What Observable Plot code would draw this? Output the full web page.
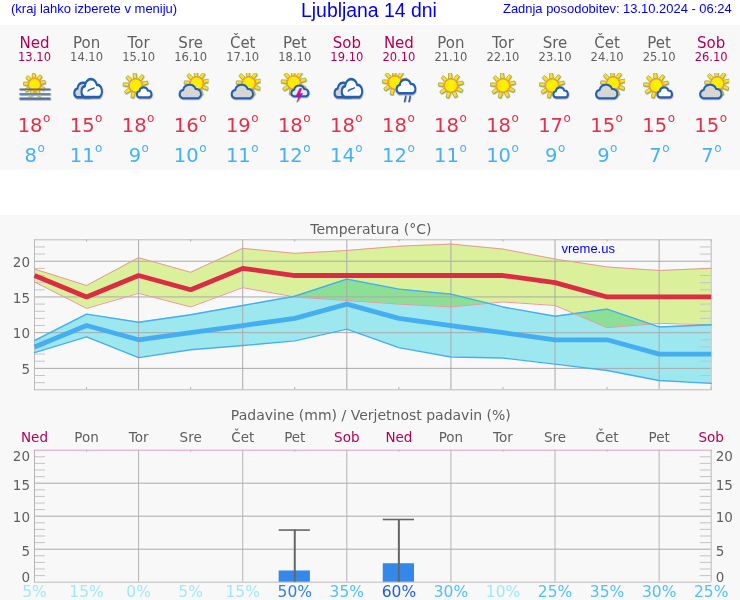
<!DOCTYPE html>
<html><head><meta charset="utf-8">
<script src="https://cdn.jsdelivr.net/npm/d3@7"></script>
<script src="https://cdn.jsdelivr.net/npm/@observablehq/plot@0.6"></script>
<style>
html,body{margin:0;padding:0;background:#fff;overflow:hidden}
#page{position:relative;width:740px;height:600px;overflow:hidden;background:#fff}
.panel{position:absolute;left:0;width:740px;background:#f8f8f8}
.head{position:absolute;color:#0000ee;font-family:"Liberation Sans",sans-serif;white-space:nowrap}
.layer{position:absolute;left:0}
.layer svg{display:block}
</style></head><body>
<div id="page">
<div class="panel" style="top:25px;height:145px"></div>
<div class="panel" style="top:215px;height:385px"></div>
<div class="head" style="left:11px;top:0;font-size:13px;line-height:17px">(kraj lahko izberete v meniju)</div>
<div class="head" style="left:301px;top:0;font-size:19.4px;line-height:21px">Ljubljana 14 dni</div>
<div class="head" style="left:503px;top:0;font-size:12.95px;line-height:17px">Zadnja posodobitev: 13.10.2024 - 06:24</div>
</div>
<script>
const dayNames = ["Ned","Pon","Tor","Sre","Čet","Pet","Sob","Ned","Pon","Tor","Sre","Čet","Pet","Sob"];
const dates = ["13.10","14.10","15.10","16.10","17.10","18.10","19.10","20.10","21.10","22.10","23.10","24.10","25.10","26.10"];
const icons = ["fog","cloudy","sunCloud","cloudSun","cloudSun","thunder","cloudy","rain","sun","sun","sunCloud","cloudSun","sunCloud","cloudSun"];
const maxT = [18,15,18,16,19,18,18,18,18,18,17,15,15,15];
const minT = [8,11,9,10,11,12,14,12,11,10,9,9,7,7];
const maxHi = [18.9,16.6,20.5,18.45,21.8,21.1,21.5,22.1,22.4,21.7,20.3,19.2,18.7,19];
const maxLo = [17.1,13.4,15.5,13.6,16.3,15,14.5,14,13.6,14.3,13.8,10.7,11.3,11.1];
const minHi = [8.9,12.6,11.45,12.5,13.8,15.1,17.5,16.1,15.4,13.6,12.3,13.3,10.8,11.1];
const minLo = [7.2,9.4,6.5,7.6,8.2,8.85,10.5,7.9,6.6,6.45,5.6,4.7,3.3,2.9];
const precip = [0,0,0,0,0,1.7,0,2.8,0,0,0,0,0,0];
const precipHi = [0,0,0,0,0,7.9,0,9.5,0,0,0,0,0,0];
const probs = [5,15,0,5,15,50,35,60,30,10,25,35,30,25];
const tempTicks = [5,10,15,20];
const tempMinor = [3,4,6,7,8,9,11,12,13,14,16,17,18,19,21,22];
const rainTicks = [0,5,10,15,20];
const rainMinor = [1,2,3,4,6,7,8,9,11,12,13,14,16,17,18,19];
const rainLabelNudge = {20:6,15:2,10:1,5:2,0:-4.5};

const idx = d3.range(14);
const even = idx.filter(i => i % 2 === 0);
const odd = idx.filter(i => i % 2 === 1);
const isWeekend = i => dayNames[i] === "Ned" || dayNames[i] === "Sob";
const FONT = "DejaVu Sans";
const xScale = {type:"linear", domain:[0,13], range:[34,710.7]};
const GREY = "#5f5f5f", WKND = "#b0005a";

/* ---- icons ---- */
function sun(cx,cy,r=6.5,R=12.5,n=9){
  let s="";
  for(let k=0;k<n;k++){
    const a=k/n*2*Math.PI-0.25, c=Math.cos(a), si=Math.sin(a), w=1.8, b=r+0.5;
    s+=`<polygon points="${cx+b*c-w*si},${cy+b*si+w*c} ${cx+R*c-w*.8*si},${cy+R*si+w*.8*c} ${cx+R*c+w*.8*si},${cy+R*si-w*.8*c} ${cx+b*c+w*si},${cy+b*si-w*c}" fill="#ffe600" stroke="#8f8f66" stroke-width=".6"/>`;
  }
  return s+`<circle cx="${cx}" cy="${cy}" r="${r}" fill="#ffee00" stroke="#ff9a20" stroke-width="1.2"/>`;
}
function cloud(x,y,w,h,fill){
  const sx=w/100, sy=h/60;
  return `<g transform="translate(${x},${y}) scale(${sx},${sy})"><path d="M20,59 A17,17 0 0 1 22,26 A26,26 0 0 1 72,22 A19.5,19.5 0 0 1 82,59 Z" fill="${fill}" stroke="#2060b0" stroke-width="${2/Math.min(sx,sy)}"/></g>`;
}
const iconBody = {
  sun: () => sun(18,13),
  fog: () => sun(18,12,6,11)+
    `<rect x="3" y="16" width="31" height="1.6" fill="#4a6ea8"/><rect x="3" y="20.5" width="31" height="2" fill="#6d88b0"/><rect x="3" y="25" width="31" height="2.2" fill="#4a6ea8"/>`+
    `<rect x="12" y="23" width="3" height="2" fill="#d8c050"/><rect x="21" y="23" width="3" height="2" fill="#d8c050"/>`,
  cloudy: () => cloud(4,9,22,16,"#d4d4d4")+cloud(11,5,24,20,"#ffffff")+
    `<path d="M19,19 C20,16 24,17 26,15" stroke="#2060b0" stroke-width="1.4" fill="none"/>`,
  sunCloud: () => sun(15,13)+cloud(15,14,17,11,"#ffffff"),
  cloudSun: () => sun(24,11)+cloud(5,11,25,15,"#d6d6d6"),
  thunder: () => sun(17,10)+cloud(13,12,20,12,"#e8e8e8")+
    `<polygon points="23,16 19,24 22,24 20,30 26,21 23,21 25,16" fill="#c010b0" stroke="#90108a" stroke-width=".4"/>`,
  rain: () => sun(14,10)+cloud(14,6,22,15,"#ffffff")+
    `<path d="M25,23 L23.5,30 M29.5,23 L28,30" stroke="#2060b0" stroke-width="1.5" fill="none"/>`
};
const iconSrc = name => "data:image/svg+xml," + encodeURIComponent(
  `<svg xmlns="http://www.w3.org/2000/svg" width="36" height="30" viewBox="0 0 36 30"><defs><filter id="s" x="-10%" y="-10%" width="120%" height="130%"><feDropShadow dx=".4" dy=".8" stdDeviation=".5" flood-color="#777" flood-opacity=".7"/></filter></defs><g filter="url(#s)">${iconBody[name]()}</g></svg>`);

/* ---- helpers ---- */
function tempLabel(values, color, top){
  const two = idx.filter(i => values[i] >= 10), one = idx.filter(i => values[i] < 10);
  const common = {x:i=>i, frameAnchor:"top", fontFamily:FONT, fill:color, lineAnchor:"bottom"};
  return [
    Plot.text(two,{...common,text:i=>values[i],dx:8,dy:top,textAnchor:"end",fontSize:19.5}),
    Plot.text(one,{...common,text:i=>values[i],dx:2.5,dy:top,textAnchor:"end",fontSize:19.5}),
    Plot.text(two,{...common,text:()=>"o",dx:8.5,dy:top-10,textAnchor:"start",fontSize:12}),
    Plot.text(one,{...common,text:()=>"o",dx:3,dy:top-10,textAnchor:"start",fontSize:12})
  ];
}

/* ---- forecast strip ---- */
const strip = Plot.plot({
  width:740,height:170,margin:0,x:xScale,axis:null,
  style:{background:"transparent"},
  marks:[
    Plot.text(idx,{x:i=>i,text:i=>dayNames[i],frameAnchor:"top",lineAnchor:"middle",dy:42.3,fontFamily:FONT,fontSize:15,fill:i=>isWeekend(i)?WKND:GREY}),
    Plot.text(idx,{x:i=>i,text:i=>dates[i],frameAnchor:"top",lineAnchor:"middle",dy:56.8,fontFamily:FONT,fontSize:11.5,fill:i=>isWeekend(i)?WKND:GREY}),
    Plot.image(idx,{x:i=>i,src:i=>iconSrc(icons[i]),frameAnchor:"top",dy:87,width:36,height:30}),
    ...tempLabel(maxT,"#e0304c",131.5),
    ...tempLabel(minT,"#44b2f4",161)
  ]
});

/* ---- temperature ---- */
const BLEND = {mixBlendMode:"multiply"};
const temp = Plot.plot({
  width:740,height:185,marginLeft:34,marginRight:29.3,marginTop:24.3,marginBottom:10.7,
  x:{...xScale,axis:null},y:{domain:[2,23],axis:null},
  style:{background:"transparent"},
  marks:[
    Plot.areaY(idx,{x:i=>i,y1:i=>maxLo[i],y2:i=>maxHi[i],fill:"#e2f7a0",...BLEND}),
    Plot.areaY(idx,{x:i=>i,y1:i=>minLo[i],y2:i=>minHi[i],fill:"#a2eef6",...BLEND}),
    Plot.ruleY(tempTicks,{stroke:"#aaa",strokeWidth:1}),
    Plot.ruleY(tempMinor,{x1:0,x2:0.21,stroke:"#c4c4c4"}),
    Plot.ruleY(tempMinor,{x1:12.79,x2:13,stroke:"#c4c4c4"}),
    Plot.ruleX(even,{stroke:"#aaa"}),
    Plot.ruleX(odd,{y1:2,y2:2.3,stroke:"#aaa"}),
    Plot.ruleX(odd,{y1:22.7,y2:23,stroke:"#aaa"}),
    Plot.frame({stroke:"#bbb"}),
    Plot.line(idx,{x:i=>i,y:i=>maxHi[i],stroke:"#e89a98",strokeWidth:1}),
    Plot.line(idx,{x:i=>i,y:i=>maxLo[i],stroke:"#e89a98",strokeWidth:1}),
    Plot.line(idx,{x:i=>i,y:i=>minHi[i],stroke:"#44aef0",strokeWidth:1.4}),
    Plot.line(idx,{x:i=>i,y:i=>minLo[i],stroke:"#44aef0",strokeWidth:1.4}),
    Plot.line(idx,{x:i=>i,y:i=>maxT[i],stroke:"#dc2c44",strokeWidth:4.8,strokeLinecap:"butt",strokeLinejoin:"miter"}),
    Plot.line(idx,{x:i=>i,y:i=>minT[i],stroke:"#44aef0",strokeWidth:4.8,strokeLinecap:"butt",strokeLinejoin:"miter"}),
    Plot.text(tempTicks,{y:d=>d,text:d=>d,frameAnchor:"left",dx:-4.5,dy:1.5,textAnchor:"end",fontFamily:FONT,fontSize:13.5,fill:GREY}),
    Plot.text(["Temperatura (°C)"],{frameAnchor:"top",lineAnchor:"middle",text:d=>d,dx:-2,dy:-10.3,fontFamily:FONT,fontSize:14,fill:GREY}),
    Plot.text(["vreme.us"],{frameAnchor:"top-left",lineAnchor:"middle",text:d=>d,dx:527,dy:9,textAnchor:"start",fontFamily:"Liberation Sans",fontSize:13,fill:"#0000ee"})
  ]
});

/* ---- precipitation ---- */
const wet = idx.filter(i => precip[i] > 0);
const probColor = p => p >= 60 ? "#2060d8" : p >= 50 ? "#2f80e8" : p >= 25 ? "#50c0f8" : "#a0e8f8";
const rainLabels = rainTicks.flatMap(t => [
  Plot.text([t],{y:d=>d,text:d=>d,frameAnchor:"left",dx:-4.5,dy:rainLabelNudge[t],textAnchor:"end",fontFamily:FONT,fontSize:13.5,fill:GREY}),
  Plot.text([t],{y:d=>d,text:d=>d,frameAnchor:"right",dx:4.5,dy:rainLabelNudge[t],textAnchor:"start",fontFamily:FONT,fontSize:13.5,fill:GREY})
]);
const rain = Plot.plot({
  width:740,height:200,marginLeft:34,marginRight:29.3,marginTop:49.7,marginBottom:18.3,
  x:{...xScale,axis:null},y:{domain:[0,20],axis:null},
  style:{background:"transparent",overflow:"visible"},
  marks:[
    Plot.ruleY([5,10,15],{stroke:"#aaa"}),
    Plot.ruleY(rainMinor,{x1:0,x2:0.21,stroke:"#c4c4c4"}),
    Plot.ruleY(rainMinor,{x1:12.79,x2:13,stroke:"#c4c4c4"}),
    Plot.ruleX(even,{stroke:"#b4b4b4"}),
    Plot.ruleX([13],{stroke:"#bbb"}),
    Plot.ruleX(odd,{y1:19.7,y2:20,stroke:"#e0a0c0"}),
    Plot.ruleY([20],{stroke:"#e0a0c0"}),
    Plot.ruleY([0],{stroke:"#bbb"}),
    Plot.rectY(wet,{x1:i=>i-0.3,x2:i=>i+0.3,y1:0,y2:i=>precip[i],fill:"#3388ea"}),
    Plot.ruleX(wet,{x:i=>i,y1:0,y2:i=>precipHi[i],stroke:"#666",strokeWidth:2}),
    Plot.ruleY(wet,{x1:i=>i-0.3,x2:i=>i+0.3,y:i=>precipHi[i],stroke:"#666",strokeWidth:1.6}),
    ...rainLabels,
    Plot.text(["Padavine (mm) / Verjetnost padavin (%)"],{frameAnchor:"top",lineAnchor:"middle",text:d=>d,dx:-2,dy:-34.7,fontFamily:FONT,fontSize:14,fill:GREY}),
    Plot.text(idx,{x:i=>i,text:i=>dayNames[i],frameAnchor:"top",lineAnchor:"middle",dy:-12.7,fontFamily:FONT,fontSize:13.5,fill:i=>isWeekend(i)?WKND:GREY}),
    Plot.text(idx,{x:i=>i,text:i=>probs[i]+"%",frameAnchor:"bottom",lineAnchor:"middle",dy:9.5,fontFamily:FONT,fontSize:15.5,fill:i=>probColor(probs[i])})
  ]
});

const page = document.getElementById("page");
[[strip,0],[temp,215],[rain,400]].forEach(([p,top])=>{
  const d=document.createElement("div");d.className="layer";d.style.top=top+"px";d.appendChild(p);page.appendChild(d);
});
</script>
</body></html>
